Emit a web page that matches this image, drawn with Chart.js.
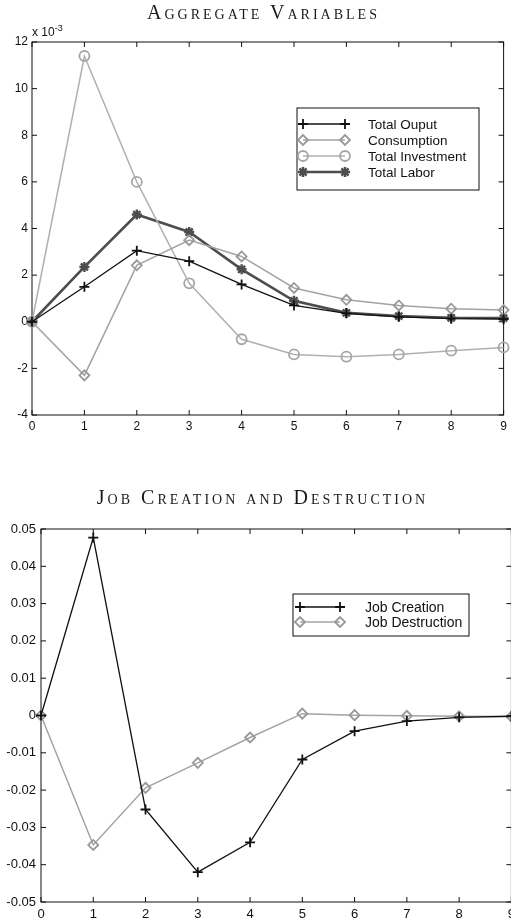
<!DOCTYPE html>
<html>
<head>
<meta charset="utf-8">
<script src="https://cdn.jsdelivr.net/npm/chart.js@4.4.0/dist/chart.umd.min.js"></script>
<style>
body { margin: 0; width: 511px; height: 922px; overflow: hidden; background: #fff; position: relative; }
.title { position: absolute; left: 0; width: 527px; text-align: center; font-family: 'Liberation Serif', serif; font-variant: small-caps; font-size: 20px; letter-spacing: 3px; color: #1a1a1a; z-index: 2; }
.box { position: absolute; left: 0; }
#expo { position: absolute; left: 32px; top: 23px; font: 12px 'Liberation Sans', Arial, sans-serif; color: #111; z-index: 2; }
#expo sup { font-size: 9px; }
</style>
</head>
<body>
<div class="title" style="top:1px">Aggregate Variables</div>
<div id="expo">x 10<sup>-3</sup></div>
<div class="box" style="top:20px;width:511px;height:420px"><canvas id="aggChart"></canvas></div>

<div class="title" style="top:486px;width:525px">Job Creation and Destruction</div>
<div class="box" style="top:505px;width:520px;height:417px"><canvas id="jobChart"></canvas></div>

<script>
// quarters after the shock
const periods = [0, 1, 2, 3, 4, 5, 6, 7, 8, 9];

// aggregate responses, in units of 10^-3
const totalOutput = [0, 1.5, 3.05, 2.6, 1.6, 0.7, 0.36, 0.21, 0.13, 0.11];
const consumption = [0, -2.3, 2.42, 3.5, 2.8, 1.45, 0.94, 0.7, 0.56, 0.5];
const totalInvestment = [0, 11.4, 6.0, 1.65, -0.75, -1.4, -1.5, -1.4, -1.24, -1.1];
const totalLabor = [0, 2.35, 4.6, 3.85, 2.25, 0.9, 0.38, 0.24, 0.17, 0.16];

// job flows
const jobCreation = [0, 0.0477, -0.0252, -0.042, -0.034, -0.0118, -0.0042, -0.0015, -0.0005, -0.0002];
const jobDestruction = [0, -0.0347, -0.0194, -0.0127, -0.0059, 0.0005, 0.0001, -0.0001, -0.0002, -0.0003];

const aggTicks = [-4, -2, 0, 2, 4, 6, 8, 10, 12];
const jobTicks = [-0.05, -0.04, -0.03, -0.02, -0.01, 0, 0.01, 0.02, 0.03, 0.04, 0.05];

function toPoints(values) {
    return periods.map((p, i) => ({ x: p, y: values[i] }));
}

function lineSet(label, values, color, width, marker, markerColor, markerWidth) {
    return {
        label: label,
        data: toPoints(values),
        borderColor: color,
        borderWidth: width,
        pointStyle: marker,
        pointRadius: 5,
        pointHoverRadius: 5,
        pointBorderColor: markerColor,
        pointBorderWidth: markerWidth,
        pointBackgroundColor: 'rgba(0,0,0,0)',
        tension: 0,
        clip: false
    };
}

// matlab style box with inward ticks on all four sides
const frame = {
    id: 'frame',
    beforeDatasetsDraw(chart) {
        const { ctx, chartArea: a, scales: { x, y } } = chart;
        ctx.save();
        ctx.strokeStyle = '#111';
        ctx.lineWidth = 1;
        ctx.strokeRect(a.left, a.top, a.right - a.left, a.bottom - a.top);
        ctx.beginPath();
        x.ticks.forEach(t => {
            const px = x.getPixelForValue(t.value);
            ctx.moveTo(px, a.bottom); ctx.lineTo(px, a.bottom - 5);
            ctx.moveTo(px, a.top); ctx.lineTo(px, a.top + 5);
        });
        y.ticks.forEach(t => {
            const py = y.getPixelForValue(t.value);
            ctx.moveTo(a.left, py); ctx.lineTo(a.left + 5, py);
            ctx.moveTo(a.right, py); ctx.lineTo(a.right - 5, py);
        });
        ctx.stroke();
        ctx.restore();
    }
};

const boxLegend = {
    id: 'boxLegend',
    afterDraw(chart, args, o) {
        const ctx = chart.ctx;
        ctx.save();
        ctx.fillStyle = '#fff';
        ctx.fillRect(o.left, o.top, o.width, o.height);
        ctx.strokeStyle = '#111';
        ctx.lineWidth = 1;
        ctx.strokeRect(o.left, o.top, o.width, o.height);
        chart.data.datasets.forEach((ds, i) => {
            const y = o.top + o.first + i * o.gap;
            const x0 = o.left + o.lineFrom;
            const x1 = o.left + o.lineTo;
            ctx.strokeStyle = ds.borderColor;
            ctx.lineWidth = ds.borderWidth;
            ctx.beginPath();
            ctx.moveTo(x0, y);
            ctx.lineTo(x1, y);
            ctx.stroke();
            [x0, x1].forEach(px => {
                ctx.strokeStyle = ds.pointBorderColor;
                ctx.fillStyle = 'rgba(0,0,0,0)';
                ctx.lineWidth = ds.pointBorderWidth;
                Chart.helpers.drawPoint(ctx, {
                    pointStyle: ds.pointStyle,
                    radius: ds.pointRadius,
                    borderWidth: ds.pointBorderWidth,
                    rotation: 0
                }, px, y);
            });
            ctx.fillStyle = '#111';
            ctx.font = o.fontSize + "px 'Liberation Sans', Arial, sans-serif";
            ctx.textBaseline = 'middle';
            ctx.fillText(ds.label, o.left + o.textX, y + 1);
        });
        ctx.restore();
    }
};

function axes(yTicks, yWidth, xHeight, fontSize, xPad, yPad, fmt) {
    const font = { family: "'Liberation Sans', Arial, sans-serif", size: fontSize };
    const noGrid = { display: false, drawTicks: false, tickLength: 0 };
    return {
        x: {
            type: 'linear',
            min: periods[0],
            max: periods[periods.length - 1],
            grid: noGrid,
            border: { display: false },
            ticks: { stepSize: 1, color: '#111', font: font, padding: xPad, maxRotation: 0 },
            afterFit: s => { s.height = xHeight; }
        },
        y: {
            min: yTicks[0],
            max: yTicks[yTicks.length - 1],
            grid: noGrid,
            border: { display: false },
            ticks: { stepSize: yTicks[1] - yTicks[0], color: '#111', font: font, padding: yPad, callback: fmt },
            afterFit: s => { s.width = yWidth; }
        }
    };
}

function aggregateChart() {
    const ctx = document.getElementById('aggChart').getContext('2d');
    new Chart(ctx, {
        type: 'line',
        data: {
            datasets: [
                lineSet('Total Ouput', totalOutput, '#111', 1.3, 'cross', '#111', 1.8),
                lineSet('Consumption', consumption, '#a3a3a3', 1.5, 'rectRot', '#999', 1.8),
                lineSet('Total Investment', totalInvestment, '#b0b0b0', 1.5, 'circle', '#a6a6a6', 1.8),
                lineSet('Total Labor', totalLabor, '#4d4d4d', 2.6, 'star', '#4d4d4d', 2.4)
            ]
        },
        options: {
            responsive: true,
            maintainAspectRatio: false,
            animation: false,
            layout: { padding: { top: 22, right: 6, left: 0, bottom: 0 } },
            scales: axes(aggTicks, 32, 25, 12, 4, 4, v => String(v)),
            plugins: {
                legend: { display: false },
                tooltip: { enabled: false },
                boxLegend: { left: 297, top: 88, width: 182, height: 82, first: 16, gap: 16, lineFrom: 6, lineTo: 48, textX: 71, fontSize: 13.5 }
            }
        },
        plugins: [frame, boxLegend]
    });
}

function jobChart() {
    const ctx = document.getElementById('jobChart').getContext('2d');
    new Chart(ctx, {
        type: 'line',
        data: {
            datasets: [
                lineSet('Job Creation', jobCreation, '#111', 1.3, 'cross', '#111', 1.8),
                lineSet('Job Destruction', jobDestruction, '#a3a3a3', 1.5, 'rectRot', '#999', 1.8)
            ]
        },
        options: {
            responsive: true,
            maintainAspectRatio: false,
            animation: false,
            layout: { padding: { top: 24, right: 8, left: 0, bottom: 0 } },
            scales: axes(jobTicks, 41, 20, 13, 5, 5, v => Math.abs(v) < 1e-9 ? '0' : v.toFixed(2)),
            plugins: {
                legend: { display: false },
                tooltip: { enabled: false },
                boxLegend: { left: 293, top: 89, width: 176, height: 42, first: 13, gap: 15, lineFrom: 7, lineTo: 47, textX: 72, fontSize: 14 }
            }
        },
        plugins: [frame, boxLegend]
    });
}

document.addEventListener('DOMContentLoaded', () => {
    aggregateChart();
    jobChart();
});
</script>
</body>
</html>
